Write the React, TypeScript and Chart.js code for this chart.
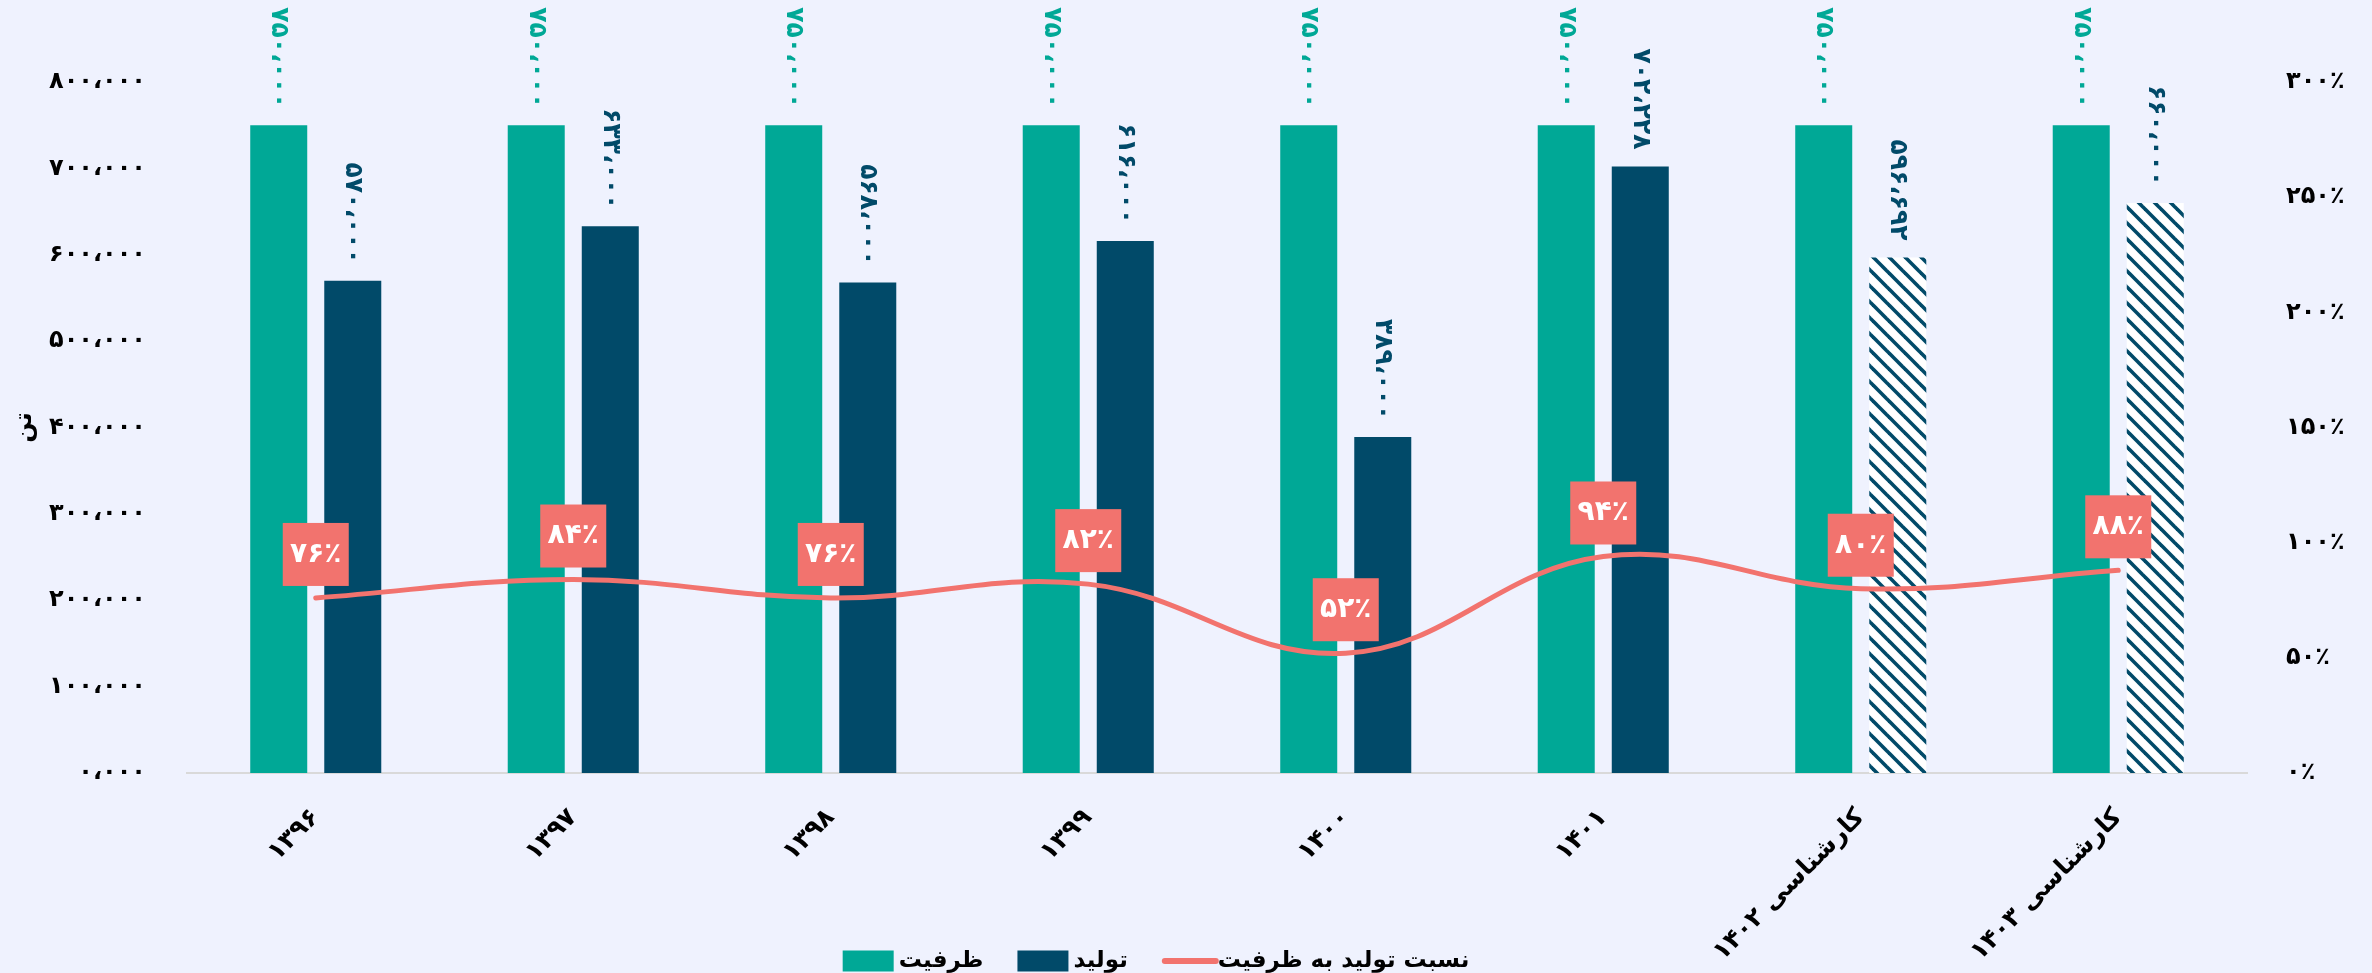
import React, { useEffect, useRef } from "react";
import { Chart, registerables } from "chart.js";

Chart.register(...registerables);

// ---------- data ----------
const categories = ["۱۳۹۶", "۱۳۹۷", "۱۳۹۸", "۱۳۹۹", "۱۴۰۰", "۱۴۰۱", "کارشناسی ۱۴۰۲", "کارشناسی ۱۴۰۳"];
const capacity = [750000, 750000, 750000, 750000, 750000, 750000, 750000, 750000];
const production = [570000, 633000, 568000, 616000, 389000, 702228, 596692, 660000];
const ratioPercent = [76, 84, 76, 82, 52, 94, 80, 88];
const isForecast = [false, false, false, false, false, false, true, true];
const seriesNames = ["ظرفیت", "تولید", "نسبت تولید به ظرفیت"];
const leftTickLabels = ["۰،۰۰۰", "۱۰۰،۰۰۰", "۲۰۰،۰۰۰", "۳۰۰،۰۰۰", "۴۰۰،۰۰۰", "۵۰۰،۰۰۰", "۶۰۰،۰۰۰", "۷۰۰،۰۰۰", "۸۰۰،۰۰۰"];
const rightTickLabels = ["۰٪", "۵۰٪", "۱۰۰٪", "۱۵۰٪", "۲۰۰٪", "۲۵۰٪", "۳۰۰٪"];
const yAxisTitle = "تن";

// ---------- style ----------
const BG = "#eff2fe";
const GREEN = "#00a896";
const DARK = "#014a69";
const SALMON = "#f2736e";
const FONT = "'DejaVu Sans', sans-serif";
const W = 2372;
const H = 973;

const persianDigits = "۰۱۲۳۴۵۶۷۸۹";
function toFa(s: string): string {
  return s.replace(/[0-9]/g, (d) => persianDigits[Number(d)]).replace(/,/g, "،");
}
function fmtNum(n: number): string {
  return toFa(n.toLocaleString("en-US"));
}
function fmtPct(n: number): string {
  return toFa(String(n)) + "٪";
}

function makeHatch(): CanvasPattern | string {
  const s = 16;
  const c = document.createElement("canvas");
  c.width = s;
  c.height = s;
  const g = c.getContext("2d");
  if (!g) return DARK;
  g.fillStyle = "#ffffff";
  g.fillRect(0, 0, s, s);
  g.strokeStyle = DARK;
  g.lineWidth = 3.6;
  for (const k of [-s, 0, s]) {
    g.beginPath();
    g.moveTo(-2, k - 2);
    g.lineTo(s + 2, k + s + 2);
    g.stroke();
  }
  const p = g.createPattern(c, "repeat");
  return p || DARK;
}

const labelPlugin = {
  id: "valueLabels",
  afterDatasetsDraw(chart: any) {
    const ctx = chart.ctx as CanvasRenderingContext2D;
    [0, 1].forEach((di) => {
      const meta = chart.getDatasetMeta(di);
      const data = chart.data.datasets[di].data as number[];
      meta.data.forEach((el: any, i: number) => {
        ctx.save();
        ctx.translate(el.x, el.y - 17);
        ctx.rotate(Math.PI / 2);
        ctx.font = `bold 25px ${FONT}`;
        ctx.fillStyle = di === 0 ? GREEN : DARK;
        ctx.textAlign = "right";
        ctx.textBaseline = "middle";
        ctx.fillText(fmtNum(data[i]), 0, 0);
        ctx.restore();
      });
    });
    const lm = chart.getDatasetMeta(2);
    const ldata = chart.data.datasets[2].data as number[];
    lm.data.forEach((pt: any, i: number) => {
      const bw = 66;
      const bh = 63;
      const bottom = pt.y - 12;
      ctx.save();
      ctx.fillStyle = SALMON;
      ctx.fillRect(pt.x - bw / 2, bottom - bh, bw, bh);
      ctx.fillStyle = "#ffffff";
      ctx.font = `bold 28px ${FONT}`;
      ctx.textAlign = "center";
      ctx.textBaseline = "middle";
      ctx.fillText(fmtPct(ldata[i]), pt.x, bottom - bh / 2);
      ctx.restore();
    });
  },
  afterDraw(chart: any) {
    // legend (drawn here so the rotated category labels are not clipped)
    const ctx = chart.ctx as CanvasRenderingContext2D;
    const items = [
      { text: seriesNames[0], color: GREEN, kind: "box" },
      { text: seriesNames[1], color: DARK, kind: "box" },
      { text: seriesNames[2], color: SALMON, kind: "line" },
    ];
    const boxW = 51;
    const boxH = 21;
    const gapText = 5;
    const gapItem = 34;
    const cy = 961;
    ctx.save();
    ctx.font = `bold 23px ${FONT}`;
    const widths = items.map((it) => ctx.measureText(it.text).width);
    const total = widths.reduce((a, w) => a + boxW + gapText + w, 0) + gapItem * (items.length - 1);
    let x = 1156 - total / 2;
    items.forEach((it, i) => {
      if (it.kind === "box") {
        ctx.fillStyle = it.color;
        ctx.fillRect(x, cy - boxH / 2, boxW, boxH);
      } else {
        ctx.strokeStyle = it.color;
        ctx.lineWidth = 6;
        ctx.lineCap = "round";
        ctx.beginPath();
        ctx.moveTo(x + 3, cy);
        ctx.lineTo(x + boxW + 3, cy);
        ctx.stroke();
      }
      ctx.fillStyle = "#000000";
      ctx.textAlign = "left";
      ctx.textBaseline = "middle";
      ctx.fillText(it.text, x + boxW + gapText, cy);
      x += boxW + gapText + widths[i] + gapItem;
    });
    ctx.restore();
  },
};

export default function App() {
  const ref = useRef<HTMLCanvasElement | null>(null);

  useEffect(() => {
    if (!ref.current) return;
    const hatch = makeHatch();
    const prodColors = isForecast.map((f) => (f ? hatch : DARK));

    const chart = new Chart(ref.current, {
      type: "bar",
      data: {
        labels: categories,
        datasets: [
          {
            type: "bar",
            label: seriesNames[0],
            data: capacity,
            backgroundColor: GREEN,
            yAxisID: "y",
            order: 1,
            barPercentage: 0.77,
            categoryPercentage: 0.575,
          },
          {
            type: "bar",
            label: seriesNames[1],
            data: production,
            backgroundColor: prodColors as any,
            yAxisID: "y",
            order: 1,
            barPercentage: 0.77,
            categoryPercentage: 0.575,
          },
          {
            type: "line",
            label: seriesNames[2],
            data: ratioPercent,
            borderColor: SALMON,
            backgroundColor: SALMON,
            borderWidth: 5,
            pointRadius: 0,
            tension: 0.4,
            yAxisID: "y1",
            order: 0,
            borderCapStyle: "round",
          } as any,
        ],
      },
      options: {
        responsive: false,
        animation: false,
        layout: { padding: { top: 82, left: 0, right: 0, bottom: 0 } },
        plugins: {
          tooltip: { enabled: false },
          legend: { display: false },
        },
        scales: {
          x: {
            grid: { display: false, drawTicks: false },
            border: { display: true, color: "#d9d9d9", width: 2 },
            ticks: {
              color: "#000000",
              font: { family: FONT, size: 25, weight: "bold" },
              minRotation: 45,
              maxRotation: 45,
              autoSkip: false,
              padding: 30,
            },
            afterFit: (s: any) => {
              s.height = 200;
            },
          },
          y: {
            position: "left",
            min: 0,
            max: 800000,
            grid: { display: false, drawTicks: false },
            border: { display: false },
            ticks: {
              stepSize: 100000,
              padding: 41,
              color: "#000000",
              font: { family: FONT, size: 24, weight: "bold" },
              callback: (_v: any, i: number) => leftTickLabels[i],
            },
            title: {
              display: true,
              text: yAxisTitle,
              color: "#000000",
              font: { family: FONT, size: 24, weight: "bold" },
              padding: { top: 10, bottom: 0 },
            },
            afterFit: (s: any) => {
              s.width = 187;
            },
          },
          y1: {
            position: "right",
            min: 0,
            max: 300,
            grid: { display: false, drawTicks: false },
            border: { display: false },
            ticks: {
              stepSize: 50,
              padding: 39,
              color: "#000000",
              font: { family: FONT, size: 24, weight: "bold" },
              callback: (_v: any, i: number) => rightTickLabels[i],
            },
            afterFit: (s: any) => {
              s.width = 125;
            },
          },
        },
      },
      plugins: [labelPlugin],
    });
    return () => chart.destroy();
  }, []);

  return (
    <div
      style={{
        position: "fixed",
        left: 0,
        top: 0,
        width: "100vw",
        height: "100vh",
        overflow: "hidden",
        background: BG,
      }}
    >
      <canvas ref={ref} width={W} height={H} style={{ display: "block", width: W, height: H }} />
    </div>
  );
}
